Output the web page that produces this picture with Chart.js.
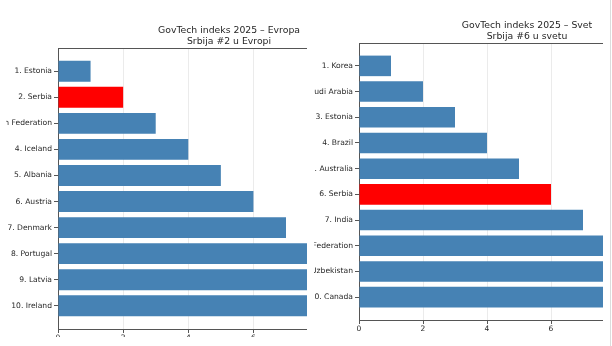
<!DOCTYPE html>
<html>
<head>
<meta charset="utf-8">
<script src="https://cdn.jsdelivr.net/npm/chart.js@4"></script>
<style>
  body { margin: 0; background: #fff; width: 612px; height: 346px; overflow: hidden; position: relative; }
  .panel { position: absolute; top: 0; overflow: hidden; }
  .panel canvas { position: absolute; top: 0; }
  #edge { position: absolute; left: 610px; top: 0; width: 1px; height: 346px; background: #dcdcdc; }
</style>
</head>
<body>
<div class="panel" style="left:6px; width:301px; height:337px;">
  <canvas id="europe" width="462" height="349" style="left:-68px; width:462px; height:349px;"></canvas>
</div>
<div class="panel" style="left:314px; width:289px; height:346px;">
  <canvas id="world" width="456" height="340" style="left:-75px; width:456px; height:340px;"></canvas>
</div>
<div id="edge"></div>
<script>
// Evropa
let europeLabels = ["1. Estonia", "2. Serbia", "3. Russian Federation", "4. Iceland", "5. Albania",
  "6. Austria", "7. Denmark", "8. Portugal", "9. Latvia", "10. Ireland"]
let europeValues = [1, 2, 3, 4, 5, 6, 7, 8, 9, 10]
let europeTitle = ["GovTech indeks 2025 \u2013 Evropa", "Srbija #2 u Evropi"]

// Svet
let worldLabels = ["1. Korea", "2. Saudi Arabia", "3. Estonia", "4. Brazil", "5. Australia",
  "6. Serbia", "7. India", "8. Russian Federation", "9. Uzbekistan", "10. Canada"]
let worldValues = [1, 2, 3, 4, 5, 6, 7, 8, 9, 10]
let worldTitle = ["GovTech indeks 2025 \u2013 Svet", "Srbija #6 u svetu"]

let xTicks = [0, 2, 4, 6, 8, 10]

const BLUE = "#4682b4"
const RED = "#ff0000"
const SPINE = "#555555"
const TEXT = "#262626"
const FONT = "DejaVu Sans"

function makeChart(id, labels, values, title, titlePad) {
  let ctx = document.getElementById(id)
  let points = values.map((v, i) => ({ x: v, y: i }))
  let colors = labels.map(l => (l.indexOf("Serbia") >= 0 ? RED : BLUE))

  return new Chart(ctx, {
    type: "bar",
    data: {
      datasets: [{
        data: points,
        backgroundColor: colors,
        borderWidth: 0,
        barPercentage: 0.8,
        categoryPercentage: 1.0
      }]
    },
    options: {
      indexAxis: "y",
      responsive: false,
      animation: false,
      layout: { padding: 0 },
      scales: {
        x: {
          type: "linear",
          position: "bottom",
          min: 0,
          max: 10.5,
          afterBuildTicks: function (scale) {
            scale.ticks = xTicks.map(v => ({ value: v }))
          },
          afterFit: function (scale) { scale.height = 20 },
          grid: { color: "#ebebeb", tickColor: SPINE, tickLength: 4 },
          border: { color: SPINE, width: 1 },
          ticks: { color: TEXT, padding: 1, font: { family: FONT, size: 7.5 } }
        },
        x2: {
          type: "linear",
          position: "top",
          min: 0,
          max: 10.5,
          afterFit: function (scale) { scale.height = 0 },
          grid: { display: false },
          border: { color: SPINE, width: 1 },
          ticks: { display: false }
        },
        y: {
          type: "linear",
          reverse: true,
          offset: false,
          min: -0.89,
          max: 9.89,
          afterBuildTicks: function (scale) {
            scale.ticks = labels.map((l, i) => ({ value: i }))
          },
          afterFit: function (scale) { scale.width = 120 },
          grid: { offset: false, drawOnChartArea: false, tickColor: SPINE, tickLength: 4 },
          border: { color: SPINE, width: 1 },
          ticks: {
            color: TEXT,
            padding: 2,
            autoSkip: false,
            font: { family: FONT, size: 7.6 },
            callback: function (value) { return labels[value] }
          }
        }
      },
      plugins: {
        legend: { display: false },
        tooltip: { enabled: false },
        title: {
          display: true,
          text: title,
          fullSize: false,
          color: TEXT,
          font: { family: FONT, size: 9.3, weight: "normal", lineHeight: 1.237 },
          padding: titlePad
        }
      }
    }
  })
}

makeChart("europe", europeLabels, europeValues, europeTitle, { top: 24.75, bottom: 0.25 })
makeChart("world", worldLabels, worldValues, worldTitle, { top: 19.75, bottom: 0.25 })
</script>
</body>
</html>
